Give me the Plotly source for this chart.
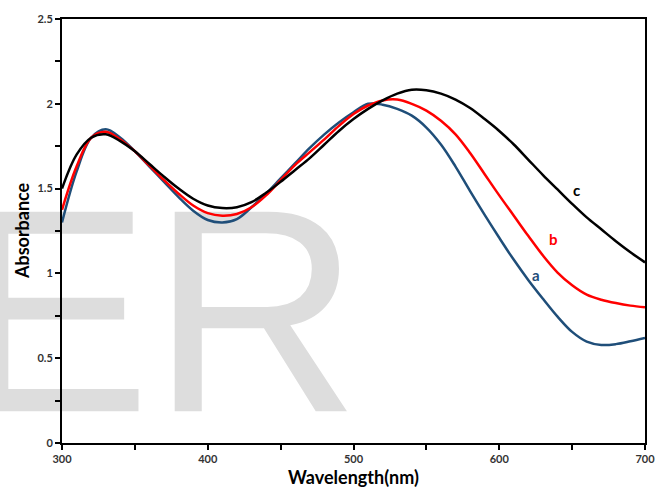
import plotly.graph_objects as go

# ---- data ----
wavelength = list(range(300, 701, 10))
abs_a = [1.30, 1.60, 1.80, 1.85, 1.80, 1.72, 1.63, 1.54, 1.45, 1.37, 1.315,
         1.30, 1.32, 1.39, 1.47, 1.56, 1.65, 1.74, 1.82, 1.89, 1.95,
         2.00, 1.995, 1.97, 1.93, 1.86, 1.76, 1.63, 1.485, 1.345, 1.21,
         1.08, 0.96, 0.85, 0.745, 0.655, 0.598, 0.578, 0.583, 0.60, 0.62]
abs_b = [1.375, 1.63, 1.80, 1.835, 1.79, 1.72, 1.635, 1.55, 1.47, 1.40, 1.355,
         1.34, 1.35, 1.39, 1.46, 1.55, 1.64, 1.715, 1.79, 1.87, 1.94,
         1.99, 2.02, 2.025, 2.00, 1.96, 1.90, 1.82, 1.71, 1.585, 1.46,
         1.34, 1.22, 1.105, 1.005, 0.93, 0.875, 0.845, 0.825, 0.81, 0.80]
abs_c = [1.50, 1.70, 1.80, 1.82, 1.78, 1.72, 1.645, 1.57, 1.50, 1.44, 1.40,
         1.385, 1.39, 1.42, 1.475, 1.54, 1.61, 1.68, 1.76, 1.84, 1.91,
         1.97, 2.02, 2.06, 2.083, 2.08, 2.06, 2.025, 1.975, 1.91, 1.84,
         1.76, 1.67, 1.58, 1.495, 1.41, 1.33, 1.26, 1.19, 1.125, 1.065]
series_names = ["a", "b", "c"]
x_title = "Wavelength(nm)"
y_title = "Absorbance"
watermark = "ER"

# ---- styles ----
colors = ["#1F4E79", "#FF0000", "#000000"]
series_values = [abs_a, abs_b, abs_c]
label_pos = [(625, 0.99), (637, 1.20), (653, 1.49)]
FONT = "Lato"

fig = go.Figure()

# watermark behind the curves
fig.add_trace(go.Scatter(
    x=[366.5], y=[0.615], mode="text", text=[watermark],
    textposition="middle center",
    textfont=dict(size=290, color="#dddddd", family="Liberation Sans"),
    cliponaxis=False, hoverinfo="skip", showlegend=False))

for name, vals, col in zip(series_names, series_values, colors):
    fig.add_trace(go.Scatter(
        x=wavelength, y=vals, mode="lines", name=name,
        line=dict(color=col, width=2.5, shape="spline", smoothing=1.0),
        showlegend=False, cliponaxis=True))

annotations = []
for name, col, (lx, ly) in zip(series_names, colors, label_pos):
    annotations.append(dict(
        x=lx, y=ly, xref="x", yref="y", text=name, showarrow=False,
        font=dict(family=FONT, size=15, color=col, weight="bold")))

annotations.append(dict(
    x=0.5, y=-0.081, xref="paper", yref="paper", text=x_title,
    showarrow=False, xanchor="center", yanchor="middle",
    font=dict(family=FONT, size=18, color="#000000", weight="bold")))
annotations.append(dict(
    x=-0.0685, y=0.5, xref="paper", yref="paper", text=y_title,
    showarrow=False, xanchor="center", yanchor="middle", textangle=-90,
    font=dict(family=FONT, size=18, color="#000000", weight="bold")))

axis_common = dict(
    showgrid=False, zeroline=False, showline=True, linecolor="black",
    linewidth=2, mirror=True, ticks="outside", ticklen=5, tickwidth=1.5,
    tickcolor="black",
    tickfont=dict(family=FONT, size=11, color="#333333", weight="bold"),
)

fig.update_layout(
    width=667, height=490,
    margin=dict(l=62, r=21, t=14, b=47),
    paper_bgcolor="white", plot_bgcolor="rgba(0,0,0,0)",
    annotations=annotations,
    xaxis=dict(range=[300, 700], dtick=100, tick0=300,
               minor=dict(dtick=50, ticks="outside", ticklen=5,
                          tickwidth=1.5, tickcolor="black"),
               **axis_common),
    yaxis=dict(range=[0, 2.5], dtick=0.5, tick0=0,
               minor=dict(dtick=0.25, ticks="outside", ticklen=5,
                          tickwidth=1.5, tickcolor="black"),
               **axis_common),
)

fig.write_html("out.html",
               config={"displayModeBar": False},
               post_script="document.body.style.margin='0';"
                           "document.body.style.padding='0';")
